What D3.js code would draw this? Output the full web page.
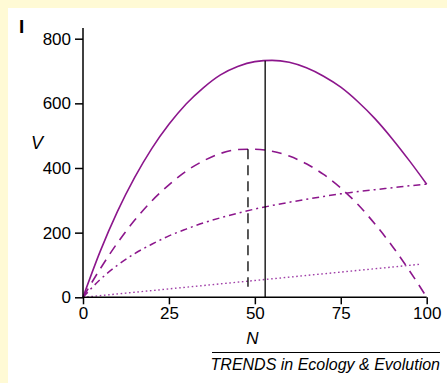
<!DOCTYPE html>
<html>
<head>
<meta charset="utf-8">
<script src="https://cdn.jsdelivr.net/npm/d3@7"></script>
<style>
  html, body { margin: 0; padding: 0; background: #fffad5; }
  svg { display: block; font-family: "Liberation Sans", Arial, sans-serif; }
</style>
</head>
<body>
<svg id="chart" width="447" height="383"></svg>
<script>
// ---- data ----
const nValues = [0, 5, 10, 15, 20, 25, 30, 35, 40, 45, 50, 55, 60, 65, 70, 75, 80, 85, 90, 95, 100];
const solidV   = [0, 142, 265, 370, 460, 535, 598, 648, 688, 714, 729, 733, 727, 710, 684, 650, 605, 552, 490, 422, 350];
const dashedV  = [0, 88, 168, 238, 298, 348, 390, 422, 445, 457, 458, 452, 437, 413, 380, 338, 287, 226, 158, 82, 0];
const dashDotV = [0, 55, 99, 135, 164, 190, 211, 230, 246, 260, 273, 284, 294, 303, 312, 320, 327, 333, 339, 345, 350];
const dottedN  = [0, 25, 50, 75, 98];
const dottedV  = [0, 26, 52, 78, 102];
const solidMarker  = { n: 53, top: 732, bottom: 0 };
const dashedMarker = { n: 48, top: 458, bottom: 33 };
const xTicks = [0, 25, 50, 75, 100];
const yTicks = [0, 200, 400, 600, 800];
const panelLabel = "I";
const xLabel = "N";
const yLabel = "V";
const caption = "TRENDS in Ecology & Evolution";

// ---- drawing ----
const svg = d3.select("#chart");
const purple = "#8c168c";

svg.append("rect").attr("x", 8).attr("y", 8).attr("width", 439).attr("height", 375).attr("fill", "#ffffff");

const x = d3.scaleLinear().domain([0, 100]).range([83, 426.7]);
const y = d3.scaleLinear().domain([0, 800]).range([297.3, 38.7]);

const line = d3.line().x(d => x(d[0])).y(d => y(d[1])).curve(d3.curveMonotoneX);
const zipN = arr => nValues.map((n, i) => [n, arr[i]]);

const g = svg.append("g");

// curves
g.append("path").attr("d", line(zipN(solidV)))
  .attr("fill", "none").attr("stroke", purple).attr("stroke-width", 1.6);
g.append("path").attr("d", line(zipN(dashedV)))
  .attr("fill", "none").attr("stroke", purple).attr("stroke-width", 1.6)
  .attr("stroke-dasharray", "10,7");
g.append("path").attr("d", line(zipN(dashDotV)))
  .attr("fill", "none").attr("stroke", purple).attr("stroke-width", 1.5)
  .attr("stroke-dasharray", "7,4,2,4");
g.append("path").attr("d", line(dottedN.map((n, i) => [n, dottedV[i]])))
  .attr("fill", "none").attr("stroke", "#a040a8").attr("stroke-width", 1.4)
  .attr("stroke-dasharray", "1.6,2.6");

// vertical markers
g.append("line")
  .attr("x1", x(solidMarker.n)).attr("x2", x(solidMarker.n))
  .attr("y1", y(solidMarker.top)).attr("y2", y(solidMarker.bottom))
  .attr("stroke", "#000").attr("stroke-width", 1.3);
g.append("line")
  .attr("x1", x(dashedMarker.n)).attr("x2", x(dashedMarker.n))
  .attr("y1", y(dashedMarker.top)).attr("y2", y(dashedMarker.bottom))
  .attr("stroke", "#000").attr("stroke-width", 1.3)
  .attr("stroke-dasharray", "10,6");

// axes
const xAxis = d3.axisBottom(x).tickValues(xTicks).tickSize(7).tickPadding(3).tickSizeOuter(0);
const yAxis = d3.axisLeft(y).tickValues(yTicks).tickSize(8).tickPadding(4).tickSizeOuter(0);

const gx = svg.append("g").attr("transform", `translate(0,${y(0)})`).call(xAxis);
const gy = svg.append("g").attr("transform", `translate(${x(0)},0)`).call(yAxis);
[gx, gy].forEach(a => {
  a.select(".domain").remove();
  a.selectAll(".tick line").attr("stroke", "#000").attr("stroke-width", 1.5);
  a.selectAll(".tick text").attr("fill", "#000")
    .style("font-family", "'Liberation Sans', Arial, sans-serif").style("font-size", "17px");
});
// axis lines
svg.append("line").attr("x1", x(0)).attr("x2", x(100)).attr("y1", y(0)).attr("y2", y(0))
  .attr("stroke", "#000").attr("stroke-width", 1.5);
svg.append("line").attr("x1", x(0)).attr("x2", x(0)).attr("y1", y(0)).attr("y2", y(833))
  .attr("stroke", "#000").attr("stroke-width", 1.5);

// labels
svg.append("text").attr("x", 19).attr("y", 33).text(panelLabel)
  .style("font-size", "19px").style("font-weight", "bold").attr("fill", "#000");
svg.append("text").attr("x", 37).attr("y", 149).attr("text-anchor", "middle").text(yLabel)
  .style("font-size", "18px").style("font-style", "italic").attr("fill", "#000");
svg.append("text").attr("x", 252.5).attr("y", 344).attr("text-anchor", "middle").text(xLabel)
  .style("font-size", "17px").style("font-style", "italic").attr("fill", "#000");

// caption
svg.append("line").attr("x1", 212).attr("x2", 440).attr("y1", 352.5).attr("y2", 352.5)
  .attr("stroke", "#000").attr("stroke-width", 1);
svg.append("text").attr("x", 440).attr("y", 370).attr("text-anchor", "end").text(caption)
  .style("font-size", "16px").style("font-style", "italic").attr("fill", "#000");
</script>
</body>
</html>
